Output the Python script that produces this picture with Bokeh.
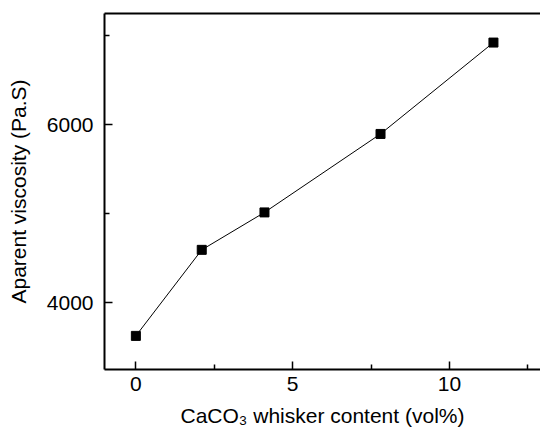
from bokeh.plotting import figure
from bokeh.models import FixedTicker, LinearAxis, Range1d
from bokeh.embed import file_html
from bokeh.resources import INLINE

content = [0, 2.1, 4.1, 7.8, 11.4]
viscosity = [3630, 4595, 5015, 5895, 6920]

x_major = [0, 5, 10]
x_minor = [2.5, 7.5, 12.5]
y_major = [4000, 6000]
y_minor = [3000, 5000, 7000]

FONT = "Liberation Sans"

p = figure(width=540, height=429, output_backend="svg", toolbar_location=None,
           x_range=Range1d(-1, 12.9), y_range=Range1d(3253, 7246),
           min_border_left=104, min_border_right=0, min_border_top=13, min_border_bottom=58,
           x_axis_label="CaCO\u2083 whisker content (vol%)",
           y_axis_label="Aparent viscosity (Pa.S)")
p.outline_line_color = None
p.grid.visible = False
p.background_fill_color = "white"
p.border_fill_color = "white"

p.line(content, viscosity, line_color="black", line_width=1)
p.scatter(content, viscosity, marker="square", size=9, fill_color="black", line_color="black")

for ax in (p.xaxis[0], p.yaxis[0]):
    ax.axis_line_width = 2
    ax.axis_line_color = "black"
    ax.major_tick_in = 8
    ax.major_tick_out = 0
    ax.minor_tick_in = 5
    ax.minor_tick_out = 0
    ax.major_tick_line_width = 1.5
    ax.minor_tick_line_width = 1.5
    ax.major_label_text_font = FONT
    ax.major_label_text_font_size = "21px"
    ax.major_label_text_color = "black"
    ax.axis_label_text_font = FONT
    ax.axis_label_text_font_size = "21px"
    ax.axis_label_text_font_style = "normal"
    ax.axis_label_text_color = "black"

p.xaxis[0].ticker = FixedTicker(ticks=x_major, minor_ticks=x_minor)
p.yaxis[0].ticker = FixedTicker(ticks=y_major, minor_ticks=y_minor)
p.xaxis[0].major_label_standoff = 7
p.xaxis[0].axis_label_standoff = 10
p.yaxis[0].major_label_standoff = 11
p.yaxis[0].axis_label_standoff = 14

top = LinearAxis(ticker=FixedTicker(ticks=[]), major_label_text_font_size="0px",
                 axis_line_width=2, axis_line_color="black",
                 major_tick_in=0, major_tick_out=0, minor_tick_in=0, minor_tick_out=0)
p.add_layout(top, "above")

open("out.html", "w").write(file_html(p, INLINE))
